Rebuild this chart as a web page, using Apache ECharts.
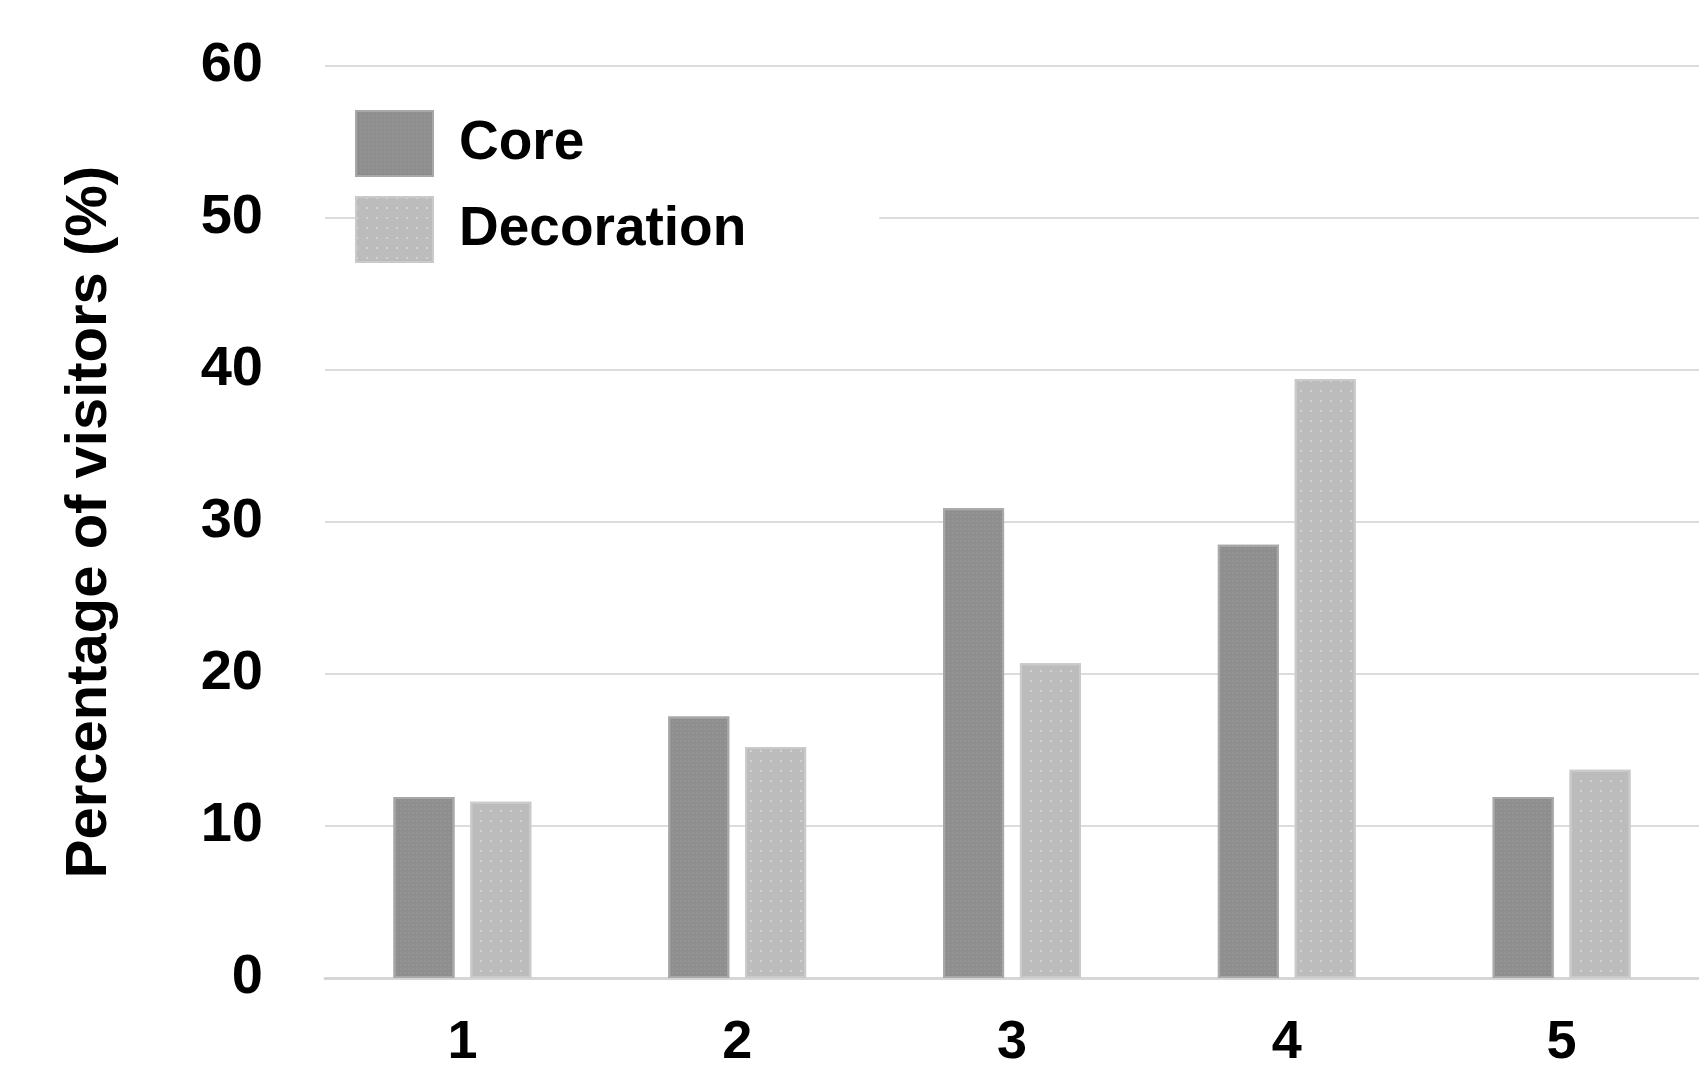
<!DOCTYPE html>
<html>
<head>
<meta charset="utf-8">
<script src="https://cdn.jsdelivr.net/npm/echarts@6/dist/echarts.min.js"></script>
<style>
html,body{margin:0;padding:0;background:#fff;}
#chart{width:1699px;height:1070px;}
</style>
</head>
<body>
<div id="chart"></div>
<script>
const categories = ['1', '2', '3', '4', '5'];
const coreValues = [11.9, 17.2, 30.9, 28.5, 11.9];
const decorationValues = [11.6, 15.2, 20.7, 39.4, 13.7];
const yTicks = [0, 10, 20, 30, 40, 50, 60];
const seriesNames = ['Core', 'Decoration'];

const FONT = '"Liberation Sans", Arial, sans-serif';
const chart = echarts.init(document.getElementById('chart'));
chart.setOption({
  backgroundColor: '#ffffff',
  animation: false,
  grid: { left: 325, right: -12, top: 66, bottom: 82, containLabel: false },
  legend: {
    orient: 'vertical',
    left: 355,
    top: 97,
    padding: [13, 133, 18, 0],
    backgroundColor: '#ffffff',
    itemWidth: 77,
    itemHeight: 65,
    itemGap: 19,
    icon: 'rect',
    textStyle: { fontFamily: FONT, fontWeight: 'bold', fontSize: 55, color: '#000', padding: [0, 0, 0, 21] },
    data: seriesNames
  },
  xAxis: {
    type: 'category',
    data: categories,
    axisTick: { show: false },
    axisLine: { lineStyle: { color: '#d6d6d6', width: 3 } },
    axisLabel: { fontFamily: FONT, fontWeight: 'bold', fontSize: 54, color: '#000', margin: 38 }
  },
  yAxis: {
    type: 'value',
    min: yTicks[0],
    max: yTicks[yTicks.length - 1],
    interval: 10,
    name: 'Percentage of visitors (%)',
    nameLocation: 'middle',
    nameGap: 206,
    nameTextStyle: { fontFamily: FONT, fontWeight: 'bold', fontSize: 58, color: '#000' },
    axisLine: { show: false },
    axisTick: { show: false },
    axisLabel: { fontFamily: FONT, fontWeight: 'bold', fontSize: 56, color: '#000', margin: 62 },
    splitLine: { lineStyle: { color: '#dcdcdc', width: 2 } }
  },
  series: [
    {
      name: seriesNames[0],
      type: 'bar',
      data: coreValues,
      barWidth: 61,
      barGap: '26%',
      itemStyle: {
        color: '#8e8e8e',
        borderColor: '#a8a8a8',
        borderWidth: 2,
        decal: { symbol: 'rect', symbolSize: 1, color: 'rgba(160,160,160,0.35)', dashArrayX: [[2, 2]], dashArrayY: [2, 2], rotation: 0 }
      }
    },
    {
      name: seriesNames[1],
      type: 'bar',
      data: decorationValues,
      barWidth: 61,
      itemStyle: {
        color: '#bcbcbc',
        borderColor: '#cacaca',
        borderWidth: 2,
        decal: { symbol: 'rect', symbolSize: 1, color: 'rgba(225,225,225,0.6)', dashArrayX: [[2, 8]], dashArrayY: [2, 8], rotation: 0 }
      }
    }
  ]
});
</script>
</body>
</html>
